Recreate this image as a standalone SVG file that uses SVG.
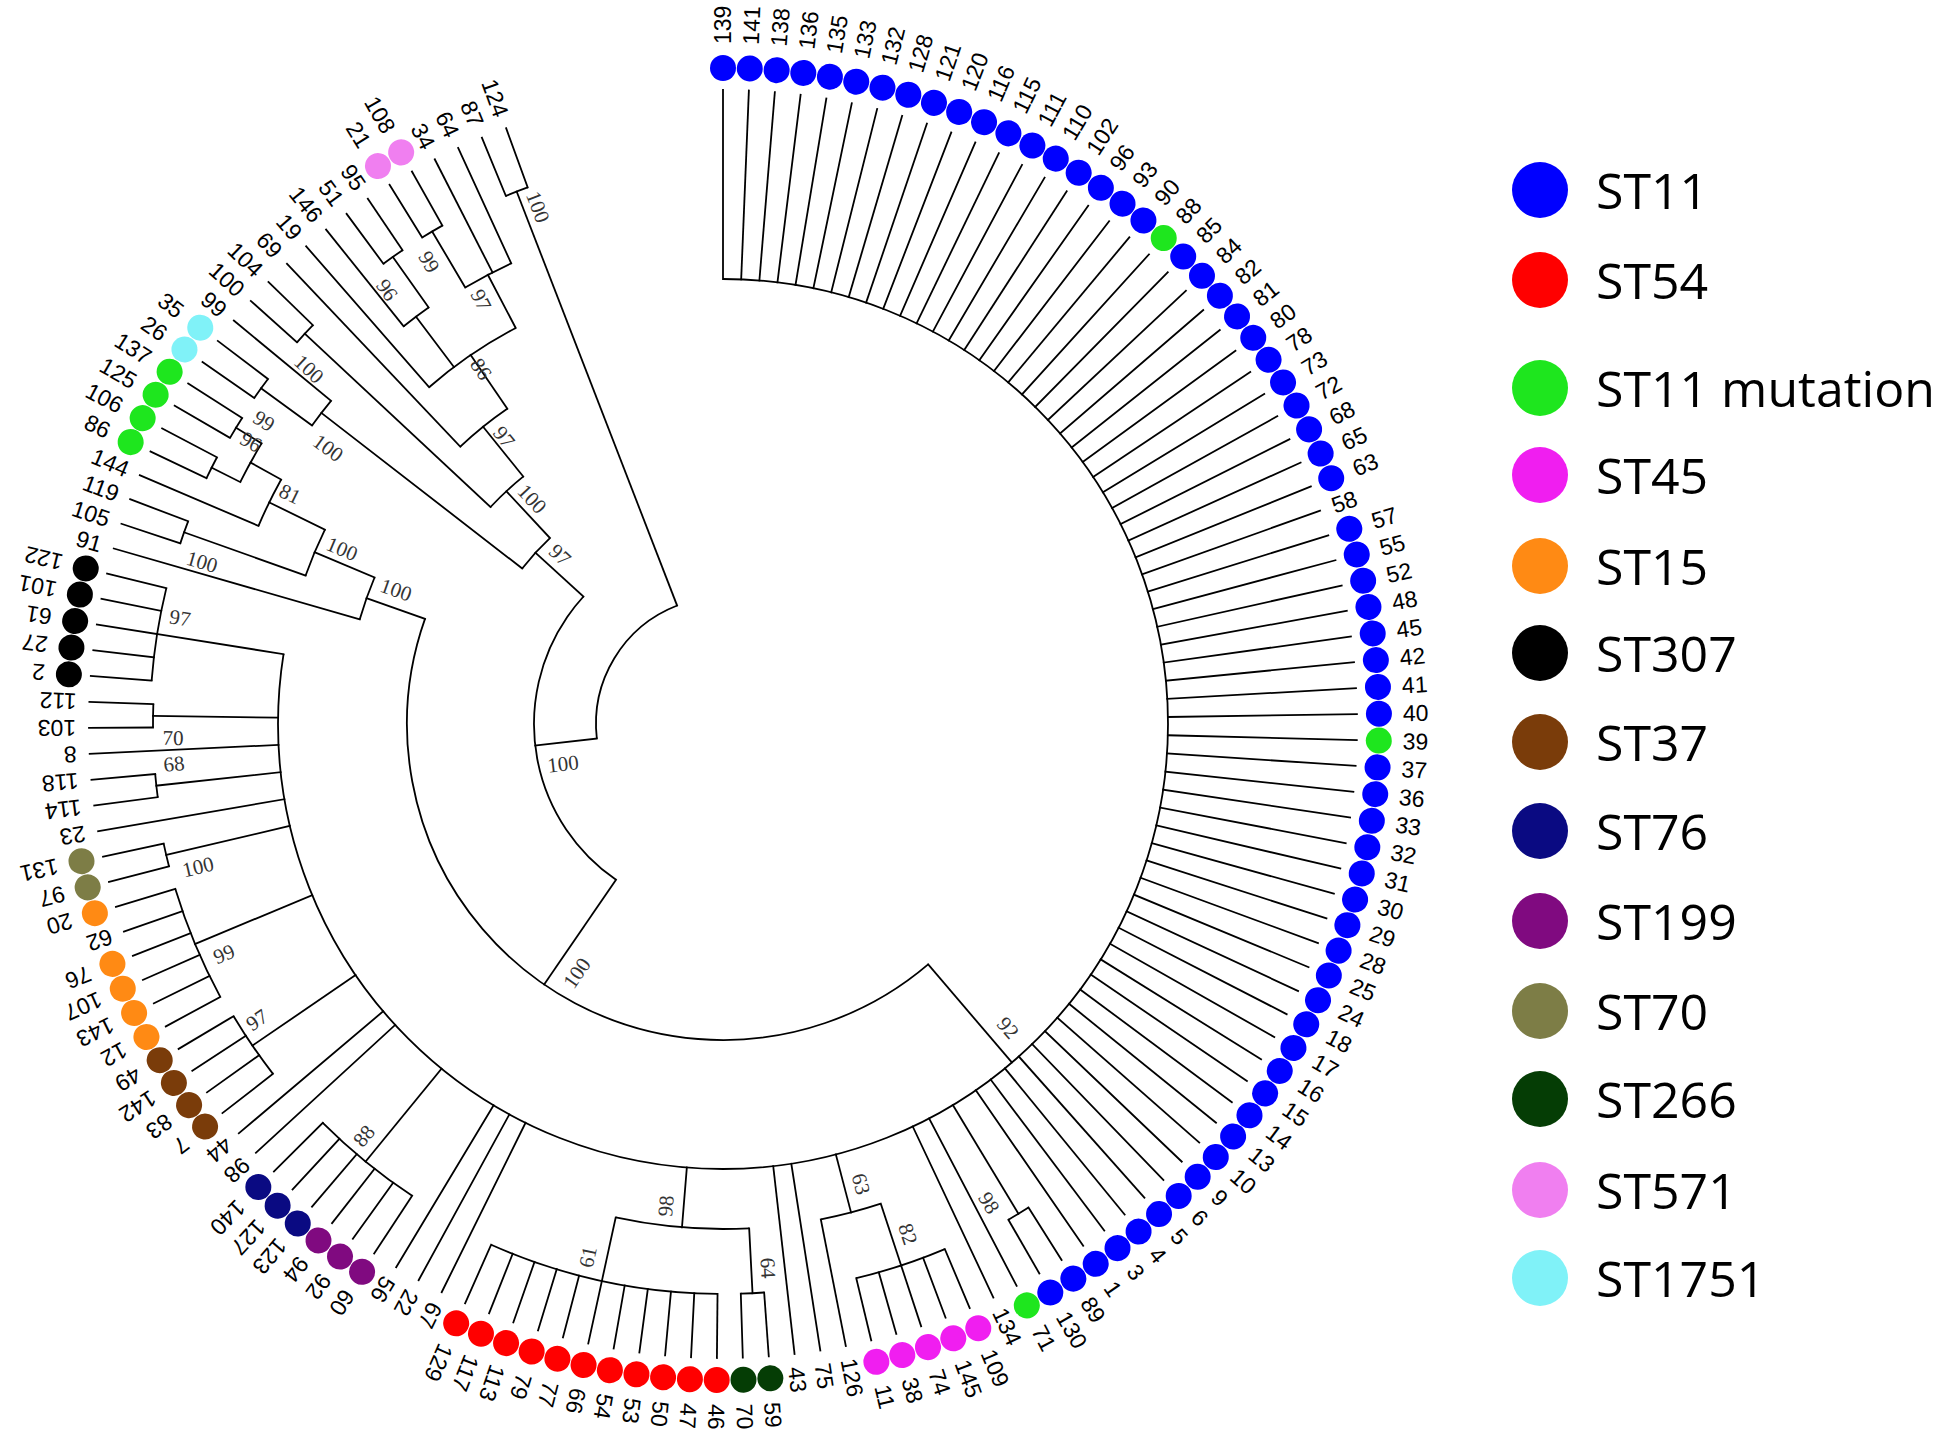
<svg xmlns="http://www.w3.org/2000/svg" width="1950" height="1451" viewBox="0 0 1950 1451">
<style>
.e line,.e circle{fill:none;stroke:#000;stroke-width:1.8}
.e line{stroke-linecap:square}
.lv text{font-family:"Liberation Sans",Arial,sans-serif;font-size:23px;fill:#000;dominant-baseline:central}
.lv text.f{text-anchor:end}
.bs text{font-family:"Liberation Serif","Times New Roman",serif;font-size:21px;fill:#333;text-anchor:middle;dominant-baseline:central}
.lg text{font-family:"Open Sans","Liberation Sans",sans-serif;font-size:50px;fill:#000;dominant-baseline:central}
.b{fill:#0000ff}.g{fill:#1ee61e}.m{fill:#f01ef0}.dg{fill:#053d05}.r{fill:#ff0000}.p{fill:#800a80}.n{fill:#0a0a82}.br{fill:#7a3c0a}.o{fill:#ff8a14}.ol{fill:#7d7d46}.k{fill:#000}.c{fill:#80f2f8}.pk{fill:#f07ff0}
</style>
<rect width="1950" height="1451" fill="#fff"/>
<g id="connectors" class="e" transform="translate(723 724)">
<circle r="127" stroke-dasharray="167.1 9999" transform="rotate(173.45)"/>
<circle r="189" stroke-dasharray="323.0 9999" transform="rotate(124.48)"/>
<circle r="316" stroke-dasharray="826.9 9999" transform="rotate(49.52)"/>
<circle r="445" stroke-dasharray="2167.2 9999" transform="rotate(-90)"/>
<circle r="572" stroke-dasharray="23.4 9999" transform="rotate(57.72)"/>
<circle r="570" stroke-dasharray="93.3 9999" transform="rotate(67.1)"/>
<circle r="505" stroke-dasharray="62.0 9999" transform="rotate(71.79)"/>
<circle r="570" stroke-dasharray="23.3 9999" transform="rotate(85.86)"/>
<circle r="570" stroke-dasharray="233.3 9999" transform="rotate(90.55)"/>
<circle r="505" stroke-dasharray="134.3 9999" transform="rotate(87.03)"/>
<circle r="565" stroke-dasharray="115.6 9999" transform="rotate(123.38)"/>
<circle r="570" stroke-dasharray="69.9 9999" transform="rotate(142.14)"/>
<circle r="572" stroke-dasharray="117.0 9999" transform="rotate(151.51)"/>
<circle r="572" stroke-dasharray="23.4 9999" transform="rotate(165.58)"/>
<circle r="570" stroke-dasharray="23.3 9999" transform="rotate(172.62)"/>
<circle r="570" stroke-dasharray="23.3 9999" transform="rotate(179.65)"/>
<circle r="573" stroke-dasharray="93.8 9999" transform="rotate(184.34)"/>
<circle r="378" stroke-dasharray="44.5 9999" transform="rotate(196.07)"/>
<circle r="443" stroke-dasharray="49.9 9999" transform="rotate(199.58)"/>
<circle r="572" stroke-dasharray="23.4 9999" transform="rotate(198.41)"/>
<circle r="505" stroke-dasharray="51.7 9999" transform="rotate(203.1)"/>
<circle r="540" stroke-dasharray="44.2 9999" transform="rotate(206.62)"/>
<circle r="572" stroke-dasharray="23.4 9999" transform="rotate(205.45)"/>
<circle r="570" stroke-dasharray="23.3 9999" transform="rotate(210.13)"/>
<circle r="254" stroke-dasharray="41.2 9999" transform="rotate(217.76)"/>
<circle r="508" stroke-dasharray="31.1 9999" transform="rotate(216)"/>
<circle r="571" stroke-dasharray="23.4 9999" transform="rotate(214.82)"/>
<circle r="318" stroke-dasharray="44.7 9999" transform="rotate(223.03)"/>
<circle r="572" stroke-dasharray="23.4 9999" transform="rotate(221.86)"/>
<circle r="382" stroke-dasharray="60.5 9999" transform="rotate(226.55)"/>
<circle r="447" stroke-dasharray="105.2 9999" transform="rotate(228.89)"/>
<circle r="510" stroke-dasharray="31.2 9999" transform="rotate(231.24)"/>
<circle r="572" stroke-dasharray="23.4 9999" transform="rotate(233.58)"/>
<circle r="507" stroke-dasharray="51.9 9999" transform="rotate(239.44)"/>
<circle r="572" stroke-dasharray="23.4 9999" transform="rotate(238.27)"/>
<circle r="571" stroke-dasharray="23.4 9999" transform="rotate(247.65)"/>
<line x1="127" x2="189" transform="rotate(173.45)"/>
<line x1="127" x2="571" transform="rotate(248.82)"/>
<line x1="189" x2="316" transform="rotate(124.48)"/>
<line x1="189" x2="254" transform="rotate(222.41)"/>
<line x1="316" x2="445" transform="rotate(49.52)"/>
<line x1="316" x2="378" transform="rotate(199.44)"/>
<line x1="378" x2="443" transform="rotate(202.81)"/>
<line x1="443" x2="572" transform="rotate(199.58)"/>
<line x1="443" x2="505" transform="rotate(206.03)"/>
<line x1="505" x2="540" transform="rotate(208.96)"/>
<line x1="540" x2="572" transform="rotate(206.62)"/>
<line x1="540" x2="570" transform="rotate(211.31)"/>
<line x1="254" x2="508" transform="rotate(217.76)"/>
<line x1="508" x2="571" transform="rotate(216)"/>
<line x1="254" x2="318" transform="rotate(227.06)"/>
<line x1="318" x2="572" transform="rotate(223.03)"/>
<line x1="318" x2="382" transform="rotate(231.09)"/>
<line x1="382" x2="447" transform="rotate(235.63)"/>
<line x1="447" x2="510" transform="rotate(232.99)"/>
<line x1="510" x2="572" transform="rotate(234.75)"/>
<line x1="447" x2="507" transform="rotate(242.37)"/>
<line x1="507" x2="572" transform="rotate(239.44)"/>
<line x1="445" x2="572" transform="rotate(58.9)"/>
<line x1="445" x2="505" transform="rotate(75.31)"/>
<line x1="505" x2="570" transform="rotate(71.79)"/>
<line x1="445" x2="505" transform="rotate(94.66)"/>
<line x1="505" x2="570" transform="rotate(87.03)"/>
<line x1="505" x2="570" transform="rotate(102.27)"/>
<line x1="445" x2="565" transform="rotate(129.24)"/>
<line x1="445" x2="570" transform="rotate(145.65)"/>
<line x1="445" x2="572" transform="rotate(157.38)"/>
<line x1="445" x2="572" transform="rotate(166.76)"/>
<line x1="445" x2="570" transform="rotate(173.79)"/>
<line x1="445" x2="570" transform="rotate(180.82)"/>
<line x1="445" x2="573" transform="rotate(189.03)"/>
<line x1="445" x2="634" transform="rotate(-90)"/>
<line x1="445" x2="634" transform="rotate(-87.66)"/>
<line x1="445" x2="634" transform="rotate(-85.31)"/>
<line x1="445" x2="634" transform="rotate(-82.97)"/>
<line x1="445" x2="634" transform="rotate(-80.62)"/>
<line x1="445" x2="634" transform="rotate(-78.28)"/>
<line x1="445" x2="634" transform="rotate(-75.93)"/>
<line x1="445" x2="634" transform="rotate(-73.59)"/>
<line x1="445" x2="634" transform="rotate(-71.24)"/>
<line x1="445" x2="634" transform="rotate(-68.9)"/>
<line x1="445" x2="634" transform="rotate(-66.55)"/>
<line x1="445" x2="634" transform="rotate(-64.21)"/>
<line x1="445" x2="634" transform="rotate(-61.86)"/>
<line x1="445" x2="634" transform="rotate(-59.52)"/>
<line x1="445" x2="634" transform="rotate(-57.17)"/>
<line x1="445" x2="634" transform="rotate(-54.83)"/>
<line x1="445" x2="634" transform="rotate(-52.48)"/>
<line x1="445" x2="634" transform="rotate(-50.14)"/>
<line x1="445" x2="634" transform="rotate(-47.79)"/>
<line x1="445" x2="634" transform="rotate(-45.45)"/>
<line x1="445" x2="634" transform="rotate(-43.1)"/>
<line x1="445" x2="634" transform="rotate(-40.76)"/>
<line x1="445" x2="634" transform="rotate(-38.41)"/>
<line x1="445" x2="634" transform="rotate(-36.07)"/>
<line x1="445" x2="634" transform="rotate(-33.73)"/>
<line x1="445" x2="634" transform="rotate(-31.38)"/>
<line x1="445" x2="634" transform="rotate(-29.04)"/>
<line x1="445" x2="634" transform="rotate(-26.69)"/>
<line x1="445" x2="634" transform="rotate(-24.35)"/>
<line x1="445" x2="634" transform="rotate(-22)"/>
<line x1="445" x2="634" transform="rotate(-19.66)"/>
<line x1="445" x2="634" transform="rotate(-17.31)"/>
<line x1="445" x2="634" transform="rotate(-14.97)"/>
<line x1="445" x2="634" transform="rotate(-12.62)"/>
<line x1="445" x2="634" transform="rotate(-10.28)"/>
<line x1="445" x2="634" transform="rotate(-7.93)"/>
<line x1="445" x2="634" transform="rotate(-5.59)"/>
<line x1="445" x2="634" transform="rotate(-3.24)"/>
<line x1="445" x2="634" transform="rotate(-0.9)"/>
<line x1="445" x2="634" transform="rotate(1.45)"/>
<line x1="445" x2="634" transform="rotate(3.79)"/>
<line x1="445" x2="634" transform="rotate(6.14)"/>
<line x1="445" x2="634" transform="rotate(8.48)"/>
<line x1="445" x2="634" transform="rotate(10.83)"/>
<line x1="445" x2="634" transform="rotate(13.17)"/>
<line x1="445" x2="634" transform="rotate(15.52)"/>
<line x1="445" x2="634" transform="rotate(17.86)"/>
<line x1="445" x2="634" transform="rotate(20.21)"/>
<line x1="445" x2="634" transform="rotate(22.55)"/>
<line x1="445" x2="634" transform="rotate(24.9)"/>
<line x1="445" x2="634" transform="rotate(27.24)"/>
<line x1="445" x2="634" transform="rotate(29.59)"/>
<line x1="445" x2="634" transform="rotate(31.93)"/>
<line x1="445" x2="634" transform="rotate(34.27)"/>
<line x1="445" x2="634" transform="rotate(36.62)"/>
<line x1="445" x2="634" transform="rotate(38.96)"/>
<line x1="445" x2="634" transform="rotate(41.31)"/>
<line x1="445" x2="634" transform="rotate(43.65)"/>
<line x1="445" x2="634" transform="rotate(46)"/>
<line x1="445" x2="634" transform="rotate(48.34)"/>
<line x1="445" x2="634" transform="rotate(50.69)"/>
<line x1="445" x2="634" transform="rotate(53.03)"/>
<line x1="445" x2="634" transform="rotate(55.38)"/>
<line x1="572" x2="634" transform="rotate(57.72)"/>
<line x1="572" x2="634" transform="rotate(60.07)"/>
<line x1="445" x2="634" transform="rotate(62.41)"/>
<line x1="445" x2="634" transform="rotate(64.76)"/>
<line x1="570" x2="634" transform="rotate(67.1)"/>
<line x1="570" x2="634" transform="rotate(69.45)"/>
<line x1="570" x2="634" transform="rotate(71.79)"/>
<line x1="570" x2="634" transform="rotate(74.14)"/>
<line x1="570" x2="634" transform="rotate(76.48)"/>
<line x1="505" x2="634" transform="rotate(78.83)"/>
<line x1="445" x2="634" transform="rotate(81.17)"/>
<line x1="445" x2="634" transform="rotate(83.52)"/>
<line x1="570" x2="634" transform="rotate(85.86)"/>
<line x1="570" x2="634" transform="rotate(88.21)"/>
<line x1="570" x2="634" transform="rotate(90.55)"/>
<line x1="570" x2="634" transform="rotate(92.89)"/>
<line x1="570" x2="634" transform="rotate(95.24)"/>
<line x1="570" x2="634" transform="rotate(97.58)"/>
<line x1="570" x2="634" transform="rotate(99.93)"/>
<line x1="570" x2="634" transform="rotate(102.27)"/>
<line x1="570" x2="634" transform="rotate(104.62)"/>
<line x1="570" x2="634" transform="rotate(106.96)"/>
<line x1="570" x2="634" transform="rotate(109.31)"/>
<line x1="570" x2="634" transform="rotate(111.65)"/>
<line x1="570" x2="634" transform="rotate(114)"/>
<line x1="445" x2="634" transform="rotate(116.34)"/>
<line x1="445" x2="634" transform="rotate(118.69)"/>
<line x1="445" x2="634" transform="rotate(121.03)"/>
<line x1="565" x2="634" transform="rotate(123.38)"/>
<line x1="565" x2="634" transform="rotate(125.72)"/>
<line x1="565" x2="634" transform="rotate(128.07)"/>
<line x1="565" x2="634" transform="rotate(130.41)"/>
<line x1="565" x2="634" transform="rotate(132.76)"/>
<line x1="565" x2="634" transform="rotate(135.1)"/>
<line x1="445" x2="634" transform="rotate(137.45)"/>
<line x1="445" x2="634" transform="rotate(139.79)"/>
<line x1="570" x2="634" transform="rotate(142.14)"/>
<line x1="570" x2="634" transform="rotate(144.48)"/>
<line x1="570" x2="634" transform="rotate(146.83)"/>
<line x1="570" x2="634" transform="rotate(149.17)"/>
<line x1="572" x2="634" transform="rotate(151.51)"/>
<line x1="572" x2="634" transform="rotate(153.86)"/>
<line x1="572" x2="634" transform="rotate(156.2)"/>
<line x1="572" x2="634" transform="rotate(158.55)"/>
<line x1="572" x2="634" transform="rotate(160.89)"/>
<line x1="572" x2="634" transform="rotate(163.24)"/>
<line x1="572" x2="634" transform="rotate(165.58)"/>
<line x1="572" x2="634" transform="rotate(167.93)"/>
<line x1="445" x2="634" transform="rotate(170.27)"/>
<line x1="570" x2="634" transform="rotate(172.62)"/>
<line x1="570" x2="634" transform="rotate(174.96)"/>
<line x1="445" x2="634" transform="rotate(177.31)"/>
<line x1="570" x2="634" transform="rotate(179.65)"/>
<line x1="570" x2="634" transform="rotate(182)"/>
<line x1="573" x2="634" transform="rotate(184.34)"/>
<line x1="573" x2="634" transform="rotate(186.69)"/>
<line x1="573" x2="634" transform="rotate(189.03)"/>
<line x1="573" x2="634" transform="rotate(191.38)"/>
<line x1="573" x2="634" transform="rotate(193.72)"/>
<line x1="378" x2="634" transform="rotate(196.07)"/>
<line x1="572" x2="634" transform="rotate(198.41)"/>
<line x1="572" x2="634" transform="rotate(200.76)"/>
<line x1="505" x2="634" transform="rotate(203.1)"/>
<line x1="572" x2="634" transform="rotate(205.45)"/>
<line x1="572" x2="634" transform="rotate(207.79)"/>
<line x1="570" x2="634" transform="rotate(210.13)"/>
<line x1="570" x2="634" transform="rotate(212.48)"/>
<line x1="571" x2="634" transform="rotate(214.82)"/>
<line x1="571" x2="634" transform="rotate(217.17)"/>
<line x1="508" x2="634" transform="rotate(219.51)"/>
<line x1="572" x2="634" transform="rotate(221.86)"/>
<line x1="572" x2="634" transform="rotate(224.2)"/>
<line x1="382" x2="634" transform="rotate(226.55)"/>
<line x1="447" x2="634" transform="rotate(228.89)"/>
<line x1="510" x2="634" transform="rotate(231.24)"/>
<line x1="572" x2="634" transform="rotate(233.58)"/>
<line x1="572" x2="634" transform="rotate(235.93)"/>
<line x1="572" x2="634" transform="rotate(238.27)"/>
<line x1="572" x2="634" transform="rotate(240.62)"/>
<line x1="507" x2="634" transform="rotate(242.96)"/>
<line x1="507" x2="634" transform="rotate(245.31)"/>
<line x1="571" x2="634" transform="rotate(247.65)"/>
<line x1="571" x2="634" transform="rotate(250)"/>
</g>
<g id="leaves" class="lv" transform="translate(723 724)">
<g id="n139" transform="rotate(-90)"><circle class="b" cx="656" r="13"/><text x="680">139</text></g>
<g id="n141" transform="rotate(-87.66)"><circle class="b" cx="656" r="13"/><text x="680">141</text></g>
<g id="n138" transform="rotate(-85.31)"><circle class="b" cx="656" r="13"/><text x="680">138</text></g>
<g id="n136" transform="rotate(-82.97)"><circle class="b" cx="656" r="13"/><text x="680">136</text></g>
<g id="n135" transform="rotate(-80.62)"><circle class="b" cx="656" r="13"/><text x="680">135</text></g>
<g id="n133" transform="rotate(-78.28)"><circle class="b" cx="656" r="13"/><text x="680">133</text></g>
<g id="n132" transform="rotate(-75.93)"><circle class="b" cx="656" r="13"/><text x="680">132</text></g>
<g id="n128" transform="rotate(-73.59)"><circle class="b" cx="656" r="13"/><text x="680">128</text></g>
<g id="n121" transform="rotate(-71.24)"><circle class="b" cx="656" r="13"/><text x="680">121</text></g>
<g id="n120" transform="rotate(-68.9)"><circle class="b" cx="656" r="13"/><text x="680">120</text></g>
<g id="n116" transform="rotate(-66.55)"><circle class="b" cx="656" r="13"/><text x="680">116</text></g>
<g id="n115" transform="rotate(-64.21)"><circle class="b" cx="656" r="13"/><text x="680">115</text></g>
<g id="n111" transform="rotate(-61.86)"><circle class="b" cx="656" r="13"/><text x="680">111</text></g>
<g id="n110" transform="rotate(-59.52)"><circle class="b" cx="656" r="13"/><text x="680">110</text></g>
<g id="n102" transform="rotate(-57.17)"><circle class="b" cx="656" r="13"/><text x="680">102</text></g>
<g id="n96" transform="rotate(-54.83)"><circle class="b" cx="656" r="13"/><text x="680">96</text></g>
<g id="n93" transform="rotate(-52.48)"><circle class="b" cx="656" r="13"/><text x="680">93</text></g>
<g id="n90" transform="rotate(-50.14)"><circle class="b" cx="656" r="13"/><text x="680">90</text></g>
<g id="n88" transform="rotate(-47.79)"><circle class="g" cx="656" r="13"/><text x="680">88</text></g>
<g id="n85" transform="rotate(-45.45)"><circle class="b" cx="656" r="13"/><text x="680">85</text></g>
<g id="n84" transform="rotate(-43.1)"><circle class="b" cx="656" r="13"/><text x="680">84</text></g>
<g id="n82" transform="rotate(-40.76)"><circle class="b" cx="656" r="13"/><text x="680">82</text></g>
<g id="n81" transform="rotate(-38.41)"><circle class="b" cx="656" r="13"/><text x="680">81</text></g>
<g id="n80" transform="rotate(-36.07)"><circle class="b" cx="656" r="13"/><text x="680">80</text></g>
<g id="n78" transform="rotate(-33.73)"><circle class="b" cx="656" r="13"/><text x="680">78</text></g>
<g id="n73" transform="rotate(-31.38)"><circle class="b" cx="656" r="13"/><text x="680">73</text></g>
<g id="n72" transform="rotate(-29.04)"><circle class="b" cx="656" r="13"/><text x="680">72</text></g>
<g id="n68" transform="rotate(-26.69)"><circle class="b" cx="656" r="13"/><text x="680">68</text></g>
<g id="n65" transform="rotate(-24.35)"><circle class="b" cx="656" r="13"/><text x="680">65</text></g>
<g id="n63" transform="rotate(-22)"><circle class="b" cx="656" r="13"/><text x="680">63</text></g>
<g id="n58" transform="rotate(-19.66)"><text x="647">58</text></g>
<g id="n57" transform="rotate(-17.31)"><circle class="b" cx="656" r="13"/><text x="680">57</text></g>
<g id="n55" transform="rotate(-14.97)"><circle class="b" cx="656" r="13"/><text x="680">55</text></g>
<g id="n52" transform="rotate(-12.62)"><circle class="b" cx="656" r="13"/><text x="680">52</text></g>
<g id="n48" transform="rotate(-10.28)"><circle class="b" cx="656" r="13"/><text x="680">48</text></g>
<g id="n45" transform="rotate(-7.93)"><circle class="b" cx="656" r="13"/><text x="680">45</text></g>
<g id="n42" transform="rotate(-5.59)"><circle class="b" cx="656" r="13"/><text x="680">42</text></g>
<g id="n41" transform="rotate(-3.24)"><circle class="b" cx="656" r="13"/><text x="680">41</text></g>
<g id="n40" transform="rotate(-0.9)"><circle class="b" cx="656" r="13"/><text x="680">40</text></g>
<g id="n39" transform="rotate(1.45)"><circle class="g" cx="656" r="13"/><text x="680">39</text></g>
<g id="n37" transform="rotate(3.79)"><circle class="b" cx="656" r="13"/><text x="680">37</text></g>
<g id="n36" transform="rotate(6.14)"><circle class="b" cx="656" r="13"/><text x="680">36</text></g>
<g id="n33" transform="rotate(8.48)"><circle class="b" cx="656" r="13"/><text x="680">33</text></g>
<g id="n32" transform="rotate(10.83)"><circle class="b" cx="656" r="13"/><text x="680">32</text></g>
<g id="n31" transform="rotate(13.17)"><circle class="b" cx="656" r="13"/><text x="680">31</text></g>
<g id="n30" transform="rotate(15.52)"><circle class="b" cx="656" r="13"/><text x="680">30</text></g>
<g id="n29" transform="rotate(17.86)"><circle class="b" cx="656" r="13"/><text x="680">29</text></g>
<g id="n28" transform="rotate(20.21)"><circle class="b" cx="656" r="13"/><text x="680">28</text></g>
<g id="n25" transform="rotate(22.55)"><circle class="b" cx="656" r="13"/><text x="680">25</text></g>
<g id="n24" transform="rotate(24.9)"><circle class="b" cx="656" r="13"/><text x="680">24</text></g>
<g id="n18" transform="rotate(27.24)"><circle class="b" cx="656" r="13"/><text x="680">18</text></g>
<g id="n17" transform="rotate(29.59)"><circle class="b" cx="656" r="13"/><text x="680">17</text></g>
<g id="n16" transform="rotate(31.93)"><circle class="b" cx="656" r="13"/><text x="680">16</text></g>
<g id="n15" transform="rotate(34.27)"><circle class="b" cx="656" r="13"/><text x="680">15</text></g>
<g id="n14" transform="rotate(36.62)"><circle class="b" cx="656" r="13"/><text x="680">14</text></g>
<g id="n13" transform="rotate(38.96)"><circle class="b" cx="656" r="13"/><text x="680">13</text></g>
<g id="n10" transform="rotate(41.31)"><circle class="b" cx="656" r="13"/><text x="680">10</text></g>
<g id="n9" transform="rotate(43.65)"><circle class="b" cx="656" r="13"/><text x="680">9</text></g>
<g id="n6" transform="rotate(46)"><circle class="b" cx="656" r="13"/><text x="680">6</text></g>
<g id="n5" transform="rotate(48.34)"><circle class="b" cx="656" r="13"/><text x="680">5</text></g>
<g id="n4" transform="rotate(50.69)"><circle class="b" cx="656" r="13"/><text x="680">4</text></g>
<g id="n3" transform="rotate(53.03)"><circle class="b" cx="656" r="13"/><text x="680">3</text></g>
<g id="n1" transform="rotate(55.38)"><circle class="b" cx="656" r="13"/><text x="680">1</text></g>
<g id="n89" transform="rotate(57.72)"><circle class="b" cx="656" r="13"/><text x="680">89</text></g>
<g id="n130" transform="rotate(60.07)"><circle class="b" cx="656" r="13"/><text x="680">130</text></g>
<g id="n71" transform="rotate(62.41)"><circle class="g" cx="656" r="13"/><text x="680">71</text></g>
<g id="n134" transform="rotate(64.76)"><text x="647">134</text></g>
<g id="n109" transform="rotate(67.1)"><circle class="m" cx="656" r="13"/><text x="680">109</text></g>
<g id="n145" transform="rotate(69.45)"><circle class="m" cx="656" r="13"/><text x="680">145</text></g>
<g id="n74" transform="rotate(71.79)"><circle class="m" cx="656" r="13"/><text x="680">74</text></g>
<g id="n38" transform="rotate(74.14)"><circle class="m" cx="656" r="13"/><text x="680">38</text></g>
<g id="n11" transform="rotate(76.48)"><circle class="m" cx="656" r="13"/><text x="680">11</text></g>
<g id="n126" transform="rotate(78.83)"><text x="647">126</text></g>
<g id="n75" transform="rotate(81.17)"><text x="647">75</text></g>
<g id="n43" transform="rotate(83.52)"><text x="647">43</text></g>
<g id="n59" transform="rotate(85.86)"><circle class="dg" cx="656" r="13"/><text x="680">59</text></g>
<g id="n70" transform="rotate(88.21)"><circle class="dg" cx="656" r="13"/><text x="680">70</text></g>
<g id="n46" transform="rotate(90.55)"><circle class="r" cx="656" r="13"/><text x="680">46</text></g>
<g id="n47" transform="rotate(92.89)"><circle class="r" cx="656" r="13"/><text x="680">47</text></g>
<g id="n50" transform="rotate(95.24)"><circle class="r" cx="656" r="13"/><text x="680">50</text></g>
<g id="n53" transform="rotate(97.58)"><circle class="r" cx="656" r="13"/><text x="680">53</text></g>
<g id="n54" transform="rotate(99.93)"><circle class="r" cx="656" r="13"/><text x="680">54</text></g>
<g id="n66" transform="rotate(102.27)"><circle class="r" cx="656" r="13"/><text x="680">66</text></g>
<g id="n77" transform="rotate(104.62)"><circle class="r" cx="656" r="13"/><text x="680">77</text></g>
<g id="n79" transform="rotate(106.96)"><circle class="r" cx="656" r="13"/><text x="680">79</text></g>
<g id="n113" transform="rotate(109.31)"><circle class="r" cx="656" r="13"/><text x="680">113</text></g>
<g id="n117" transform="rotate(111.65)"><circle class="r" cx="656" r="13"/><text x="680">117</text></g>
<g id="n129" transform="rotate(114)"><circle class="r" cx="656" r="13"/><text x="680">129</text></g>
<g id="n67" transform="rotate(116.34)"><text x="647">67</text></g>
<g id="n22" transform="rotate(118.69)"><text x="647">22</text></g>
<g id="n56" transform="rotate(121.03)"><text x="647">56</text></g>
<g id="n60" transform="rotate(123.38)"><circle class="p" cx="656" r="13"/><text x="680">60</text></g>
<g id="n92" transform="rotate(125.72)"><circle class="p" cx="656" r="13"/><text x="680">92</text></g>
<g id="n94" transform="rotate(128.07)"><circle class="p" cx="656" r="13"/><text x="680">94</text></g>
<g id="n123" transform="rotate(130.41)"><circle class="n" cx="656" r="13"/><text x="680">123</text></g>
<g id="n127" transform="rotate(132.76)"><circle class="n" cx="656" r="13"/><text x="680">127</text></g>
<g id="n140" transform="rotate(135.1)"><circle class="n" cx="656" r="13"/><text x="680">140</text></g>
<g id="n98" transform="rotate(137.45)"><text x="647">98</text></g>
<g id="n44" transform="rotate(139.79)"><text x="647">44</text></g>
<g id="n7" transform="rotate(142.14)"><circle class="br" cx="656" r="13"/><text x="680">7</text></g>
<g id="n83" transform="rotate(144.48)"><circle class="br" cx="656" r="13"/><text x="680">83</text></g>
<g id="n142" transform="rotate(146.83)"><circle class="br" cx="656" r="13"/><text x="680">142</text></g>
<g id="n49" transform="rotate(149.17)"><circle class="br" cx="656" r="13"/><text x="680">49</text></g>
<g id="n12" transform="rotate(151.51)"><circle class="o" cx="656" r="13"/><text x="680">12</text></g>
<g id="n143" transform="rotate(153.86)"><circle class="o" cx="656" r="13"/><text x="680">143</text></g>
<g id="n107" transform="rotate(156.2)"><circle class="o" cx="656" r="13"/><text x="680">107</text></g>
<g id="n76" transform="rotate(158.55)"><circle class="o" cx="656" r="13"/><text x="680">76</text></g>
<g id="n62" transform="rotate(160.89)"><text x="647">62</text></g>
<g id="n20" transform="rotate(163.24)"><circle class="o" cx="656" r="13"/><text x="680">20</text></g>
<g id="n97" transform="rotate(165.58)"><circle class="ol" cx="656" r="13"/><text x="680">97</text></g>
<g id="n131" transform="rotate(167.93)"><circle class="ol" cx="656" r="13"/><text x="680">131</text></g>
<g id="n23" transform="rotate(170.27)"><text x="647">23</text></g>
<g id="n114" transform="rotate(172.62)"><text x="647">114</text></g>
<g id="n118" transform="rotate(174.96)"><text x="647">118</text></g>
<g id="n8" transform="rotate(177.31)"><text x="647">8</text></g>
<g id="n103" transform="rotate(179.65)"><text x="647">103</text></g>
<g id="n112" transform="rotate(182)"><text x="647">112</text></g>
<g id="n2" transform="rotate(184.34)"><circle class="k" cx="656" r="13"/><text x="680">2</text></g>
<g id="n27" transform="rotate(186.69)"><circle class="k" cx="656" r="13"/><text x="680">27</text></g>
<g id="n61" transform="rotate(189.03)"><circle class="k" cx="656" r="13"/><text x="680">61</text></g>
<g id="n101" transform="rotate(191.38)"><circle class="k" cx="656" r="13"/><text x="680">101</text></g>
<g id="n122" transform="rotate(193.72)"><circle class="k" cx="656" r="13"/><text x="680">122</text></g>
<g id="n91" transform="rotate(196.07)"><text class="f" transform="rotate(180)" x="-647">91</text></g>
<g id="n105" transform="rotate(198.41)"><text class="f" transform="rotate(180)" x="-647">105</text></g>
<g id="n119" transform="rotate(200.76)"><text class="f" transform="rotate(180)" x="-647">119</text></g>
<g id="n144" transform="rotate(203.1)"><text class="f" transform="rotate(180)" x="-647">144</text></g>
<g id="n86" transform="rotate(205.45)"><circle class="g" cx="656" r="13"/><text class="f" transform="rotate(180)" x="-680">86</text></g>
<g id="n106" transform="rotate(207.79)"><circle class="g" cx="656" r="13"/><text class="f" transform="rotate(180)" x="-680">106</text></g>
<g id="n125" transform="rotate(210.13)"><circle class="g" cx="656" r="13"/><text class="f" transform="rotate(180)" x="-680">125</text></g>
<g id="n137" transform="rotate(212.48)"><circle class="g" cx="656" r="13"/><text class="f" transform="rotate(180)" x="-680">137</text></g>
<g id="n26" transform="rotate(214.82)"><circle class="c" cx="656" r="13"/><text class="f" transform="rotate(180)" x="-680">26</text></g>
<g id="n35" transform="rotate(217.17)"><circle class="c" cx="656" r="13"/><text class="f" transform="rotate(180)" x="-680">35</text></g>
<g id="n99" transform="rotate(219.51)"><text class="f" transform="rotate(180)" x="-647">99</text></g>
<g id="n100" transform="rotate(221.86)"><text class="f" transform="rotate(180)" x="-647">100</text></g>
<g id="n104" transform="rotate(224.2)"><text class="f" transform="rotate(180)" x="-647">104</text></g>
<g id="n69" transform="rotate(226.55)"><text class="f" transform="rotate(180)" x="-647">69</text></g>
<g id="n19" transform="rotate(228.89)"><text class="f" transform="rotate(180)" x="-647">19</text></g>
<g id="n146" transform="rotate(231.24)"><text class="f" transform="rotate(180)" x="-647">146</text></g>
<g id="n51" transform="rotate(233.58)"><text class="f" transform="rotate(180)" x="-647">51</text></g>
<g id="n95" transform="rotate(235.93)"><text class="f" transform="rotate(180)" x="-647">95</text></g>
<g id="n21" transform="rotate(238.27)"><circle class="pk" cx="656" r="13"/><text class="f" transform="rotate(180)" x="-680">21</text></g>
<g id="n108" transform="rotate(240.62)"><circle class="pk" cx="656" r="13"/><text class="f" transform="rotate(180)" x="-680">108</text></g>
<g id="n34" transform="rotate(242.96)"><text class="f" transform="rotate(180)" x="-647">34</text></g>
<g id="n64" transform="rotate(245.31)"><text class="f" transform="rotate(180)" x="-647">64</text></g>
<g id="n87" transform="rotate(247.65)"><text class="f" transform="rotate(180)" x="-647">87</text></g>
<g id="n124" transform="rotate(250)"><text class="f" transform="rotate(180)" x="-647">124</text></g>
</g>
<g id="bootstrap" class="bs">
<text transform="translate(538 207) rotate(69)">100</text>
<text transform="translate(429 262) rotate(59.4)">99</text>
<text transform="translate(387 290) rotate(54.8)">96</text>
<text transform="translate(481 300) rotate(62.4)">97</text>
<text transform="translate(481 369) rotate(55.6)">86</text>
<text transform="translate(504 437) rotate(51.1)">97</text>
<text transform="translate(532 499) rotate(47)">100</text>
<text transform="translate(560 555) rotate(42.4)">97</text>
<text transform="translate(396 590) rotate(19.4)">100</text>
<text transform="translate(563 764) rotate(-6.5)">100</text>
<text transform="translate(577 973) rotate(-55.5)">100</text>
<text transform="translate(1008 1028) rotate(49.5)">92</text>
<text transform="translate(989 1203) rotate(58.9)">98</text>
<text transform="translate(908 1234) rotate(71.8)">82</text>
<text transform="translate(861 1184) rotate(75.3)">63</text>
<text transform="translate(768 1268) rotate(87)">64</text>
<text transform="translate(666 1206) rotate(-85.3)">98</text>
<text transform="translate(588 1257) rotate(-77.7)">61</text>
<text transform="translate(364 1136) rotate(-50.8)">88</text>
<text transform="translate(257 1020) rotate(-34.4)">97</text>
<text transform="translate(224 954) rotate(-22.6)">99</text>
<text transform="translate(198 867) rotate(-13.2)">100</text>
<text transform="translate(174 764) rotate(-6.2)">68</text>
<text transform="translate(173 738) rotate(0.8)">70</text>
<text transform="translate(180 618) rotate(9)">97</text>
<text transform="translate(202 562) rotate(16.1)">100</text>
<text transform="translate(342 549) rotate(22.8)">100</text>
<text transform="translate(290 494) rotate(26)">81</text>
<text transform="translate(251 442) rotate(29)">96</text>
<text transform="translate(264 421) rotate(31.3)">99</text>
<text transform="translate(328 448) rotate(36)">100</text>
<text transform="translate(309 369) rotate(43)">100</text>
</g>
<g id="legend" class="lg">
<g id="lg-ST11"><circle class="b" cx="1540" cy="190" r="28"/><text x="1596" y="190">ST11</text></g>
<g id="lg-ST54"><circle class="r" cx="1540" cy="280" r="28"/><text x="1596" y="280">ST54</text></g>
<g id="lg-ST11m"><circle class="g" cx="1540" cy="388" r="28"/><text x="1596" y="388">ST11 mutation</text></g>
<g id="lg-ST45"><circle class="m" cx="1540" cy="475" r="28"/><text x="1596" y="475">ST45</text></g>
<g id="lg-ST15"><circle class="o" cx="1540" cy="566" r="28"/><text x="1596" y="566">ST15</text></g>
<g id="lg-ST307"><circle class="k" cx="1540" cy="653" r="28"/><text x="1596" y="653">ST307</text></g>
<g id="lg-ST37"><circle class="br" cx="1540" cy="742" r="28"/><text x="1596" y="742">ST37</text></g>
<g id="lg-ST76"><circle class="n" cx="1540" cy="831" r="28"/><text x="1596" y="831">ST76</text></g>
<g id="lg-ST199"><circle class="p" cx="1540" cy="921" r="28"/><text x="1596" y="921">ST199</text></g>
<g id="lg-ST70"><circle class="ol" cx="1540" cy="1011" r="28"/><text x="1596" y="1011">ST70</text></g>
<g id="lg-ST266"><circle class="dg" cx="1540" cy="1099" r="28"/><text x="1596" y="1099">ST266</text></g>
<g id="lg-ST571"><circle class="pk" cx="1540" cy="1190" r="28"/><text x="1596" y="1190">ST571</text></g>
<g id="lg-ST1751"><circle class="c" cx="1540" cy="1278" r="28"/><text x="1596" y="1278">ST1751</text></g>
</g>
</svg>
